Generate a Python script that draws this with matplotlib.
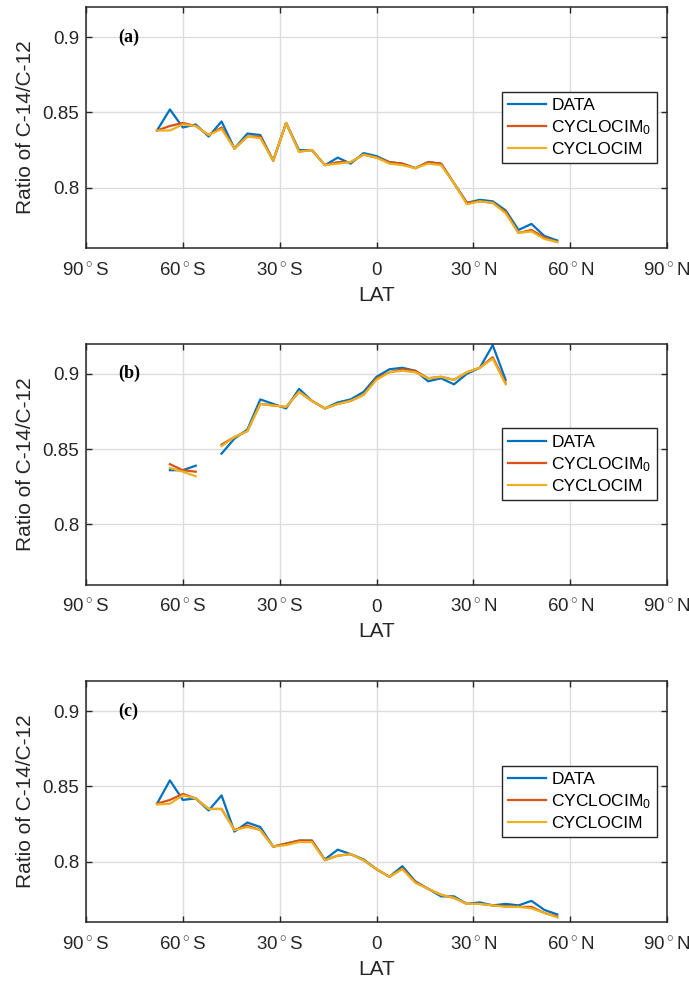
import numpy as np
import matplotlib
matplotlib.use("Agg")
import matplotlib.pyplot as plt

plt.rcParams['font.family'] = ['Liberation Sans', 'DejaVu Sans']
plt.rcParams['mathtext.fontset'] = 'custom'
plt.rcParams['mathtext.rm'] = 'Liberation Sans'
plt.rcParams['mathtext.it'] = 'Liberation Sans:italic'

nan = np.nan

lat = [-68, -64, -60, -56, -52, -48, -44, -40, -36, -32, -28, -24, -20, -16, -12, -8,
       -4, 0, 4, 8, 12, 16, 20, 24, 28, 32, 36, 40, 44, 48, 52, 56]

# panel (a)
data_a = [0.838, 0.852, 0.840, 0.842, 0.834, 0.844, 0.826, 0.836, 0.835, 0.818, 0.843, 0.825,
          0.825, 0.815, 0.820, 0.816, 0.823, 0.821, 0.817, 0.816, 0.813, 0.817, 0.816, 0.803,
          0.790, 0.792, 0.791, 0.785, 0.772, 0.776, 0.768, 0.765]
cyc0_a = [0.838, 0.841, 0.843, 0.841, 0.835, 0.840, 0.826, 0.834, 0.834, 0.818, 0.843, 0.824,
          0.825, 0.815, 0.817, 0.817, 0.822, 0.820, 0.817, 0.816, 0.813, 0.817, 0.816, 0.803,
          0.790, 0.791, 0.790, 0.784, 0.770, 0.772, 0.767, 0.764]
cyc_a = [0.838, 0.838, 0.842, 0.841, 0.835, 0.839, 0.826, 0.834, 0.833, 0.818, 0.843, 0.824,
         0.825, 0.815, 0.816, 0.817, 0.822, 0.820, 0.816, 0.815, 0.813, 0.816, 0.815, 0.803,
         0.789, 0.791, 0.790, 0.783, 0.770, 0.771, 0.766, 0.764]

# panel (b)
data_b = [nan, 0.836, 0.836, 0.839, nan, 0.847, 0.857, 0.863, 0.883, 0.880, 0.877, 0.890,
          0.882, 0.877, 0.881, 0.883, 0.888, 0.898, 0.903, 0.904, 0.902, 0.895, 0.897, 0.893,
          0.900, 0.904, 0.919, 0.896, nan, nan, nan, nan]
cyc0_b = [nan, 0.840, 0.836, 0.835, nan, 0.853, 0.858, 0.862, 0.880, 0.879, 0.878, 0.888,
          0.882, 0.877, 0.880, 0.882, 0.886, 0.897, 0.901, 0.903, 0.902, 0.897, 0.898, 0.896,
          0.901, 0.904, 0.911, 0.894, nan, nan, nan, nan]
cyc_b = [nan, 0.8375, 0.835, 0.832, nan, 0.852, 0.858, 0.862, 0.880, 0.879, 0.878, 0.888,
         0.882, 0.877, 0.880, 0.882, 0.886, 0.896, 0.901, 0.902, 0.901, 0.897, 0.898, 0.896,
         0.901, 0.904, 0.910, 0.893, nan, nan, nan, nan]

# panel (c)
data_c = [0.8385, 0.854, 0.841, 0.842, 0.834, 0.844, 0.820, 0.826, 0.823, 0.810, 0.812, 0.814,
          0.814, 0.8015, 0.808, 0.805, 0.8015, 0.795, 0.790, 0.797, 0.787, 0.782, 0.777, 0.777,
          0.772, 0.773, 0.771, 0.772, 0.771, 0.774, 0.768, 0.765]
cyc0_c = [0.8385, 0.841, 0.845, 0.842, 0.835, 0.835, 0.821, 0.824, 0.821, 0.810, 0.812, 0.814,
          0.814, 0.801, 0.804, 0.805, 0.801, 0.795, 0.790, 0.7955, 0.7865, 0.782, 0.778, 0.776,
          0.772, 0.772, 0.771, 0.7705, 0.770, 0.770, 0.766, 0.7635]
cyc_c = [0.838, 0.8385, 0.844, 0.842, 0.835, 0.835, 0.821, 0.823, 0.821, 0.810, 0.811, 0.813,
         0.813, 0.801, 0.804, 0.805, 0.801, 0.795, 0.790, 0.795, 0.786, 0.782, 0.778, 0.776,
         0.772, 0.772, 0.771, 0.770, 0.770, 0.769, 0.766, 0.763]

xticks = [-90, -60, -30, 0, 30, 60, 90]
xticklabels = [r'90$\,^{\circ}\,$S', r'60$\,^{\circ}\,$S', r'30$\,^{\circ}\,$S', '0',
               r'30$\,^{\circ}\,$N', r'60$\,^{\circ}\,$N', r'90$\,^{\circ}\,$N']
yticks = [0.8, 0.85, 0.9]
yticklabels = ['0.8', '0.85', '0.9']
labels = ['DATA', r'CYCLOCIM$_{\mathrm{0}}$', 'CYCLOCIM']
colors = ['#0072BD', '#D95319', '#EDB120']

panels = [
    ('(a)', [data_a, cyc0_a, cyc_a], 0.7477),
    ('(b)', [data_b, cyc0_b, cyc_b], 0.4052),
    ('(c)', [data_c, cyc0_c, cyc_c], 0.0621),
]

fig = plt.figure(figsize=(6.89, 9.83), dpi=100)

for tag, series, bottom in panels:
    ax = fig.add_axes([0.1248, bottom, 0.8433, 0.2452])
    for y, c, lab in zip(series, colors, labels):
        ax.plot(lat, y, color=c, linewidth=1.6, label=lab)
    ax.set_xlim(-90, 90)
    ax.set_ylim(0.76, 0.92)
    ax.set_xticks(xticks)
    ax.set_xticklabels(xticklabels)
    ax.set_yticks(yticks)
    ax.set_yticklabels(yticklabels)
    ax.grid(True, color='#dcdcdc', linewidth=1.0)
    ax.set_axisbelow(True)
    ax.tick_params(direction='in', length=4.5, width=1.0, colors='#262626',
                   labelsize=13.5, top=True, right=True, labelcolor='#262626')
    ax.tick_params(axis='x', pad=10)
    ax.tick_params(axis='y', pad=5)
    for s in ax.spines.values():
        s.set_color('#262626')
        s.set_linewidth(1.1)
    ax.set_xlabel('LAT', fontsize=15, color='#262626', labelpad=4)
    ax.set_ylabel('Ratio of C-14/C-12', fontsize=15, color='#262626', labelpad=5)
    ax.text(-80, 0.9, tag, fontsize=13, fontweight='bold', va='center', ha='left',
            family=['Liberation Serif', 'DejaVu Serif'])
    leg = ax.legend(loc='center right', fontsize=12.5, frameon=True, fancybox=False,
                    edgecolor='#262626', framealpha=1, handlelength=2.2,
                    handletextpad=0.3, borderaxespad=0.55, labelspacing=0.3,
                    borderpad=0.35)
    leg.get_frame().set_linewidth(1.0)

fig.savefig('out.png', dpi=100)
